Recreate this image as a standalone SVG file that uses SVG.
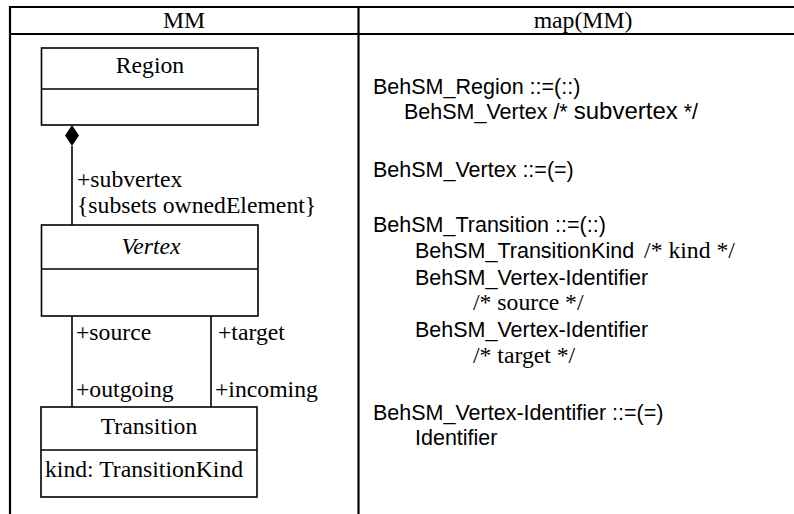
<svg xmlns="http://www.w3.org/2000/svg" width="794" height="514" viewBox="0 0 794 514">
<defs>
<style>
.tbl{stroke:#000;stroke-width:2.2;fill:none}
.box{stroke:#000;stroke-width:1.6;fill:#fff}
.ln{stroke:#000;stroke-width:1.6;fill:none}
.t{font-family:"Liberation Serif","Times New Roman",serif;font-size:23.7px;fill:#000}
.s{font-family:"Liberation Sans",Arial,sans-serif;font-size:21.5px;fill:#000}
.c{text-anchor:middle}
</style>
</defs>
<rect width="794" height="514" fill="#fff"/>
<g id="table">
<line class="tbl" x1="10" y1="7" x2="794" y2="7"/>
<line class="tbl" x1="10" y1="34" x2="794" y2="34"/>
<line class="tbl" x1="10" y1="6" x2="10" y2="514"/>
<line class="tbl" x1="358.5" y1="6" x2="358.5" y2="514"/>
<text class="t c" x="184" y="28">MM</text>
<text class="t c" x="583" y="28">map(MM)</text>
</g>
<g id="connectors">
<polygon points="72,125 79,135.5 72,146 65,135.5" fill="#000"/>
<line class="ln" x1="72" y1="146" x2="72" y2="225"/>
<line class="ln" x1="72" y1="316" x2="72" y2="407"/>
<line class="ln" x1="211" y1="316" x2="211" y2="407"/>
<text class="t" x="77" y="187">+subvertex</text>
<text class="t" x="77" y="213">{subsets ownedElement}</text>
<text class="t" x="76" y="340">+source</text>
<text class="t" x="218" y="340">+target</text>
<text class="t" x="76" y="397">+outgoing</text>
<text class="t" x="215" y="397">+incoming</text>
</g>
<g id="Region">
<rect class="box" x="41.5" y="48" width="216.5" height="77"/>
<line class="ln" x1="41.5" y1="89" x2="258" y2="89"/>
<text class="t c" x="150" y="73">Region</text>
</g>
<g id="Vertex">
<rect class="box" x="41.5" y="225" width="216.5" height="91"/>
<line class="ln" x1="41.5" y1="269" x2="258" y2="269"/>
<text class="t c" x="151" y="254" font-style="italic">Vertex</text>
</g>
<g id="Transition">
<rect class="box" x="41" y="407" width="216" height="90"/>
<line class="ln" x1="41" y1="450" x2="257" y2="450"/>
<text class="t c" x="149" y="434">Transition</text>
<text class="t" x="45" y="477">kind: TransitionKind</text>
</g>
<g id="mapping">
<text class="s" x="373" y="94">BehSM_Region ::=(::)</text>
<text class="s" x="404" y="119">BehSM_Vertex /* <tspan font-size="24">subvertex</tspan> */</text>
<text class="s" x="373" y="177">BehSM_Vertex ::=(=)</text>
<text class="s" x="373" y="232">BehSM_Transition ::=(::)</text>
<text class="s" x="415" y="258">BehSM_TransitionKind <tspan class="t" dx="4">/* kind */</tspan></text>
<text class="s" x="415" y="285">BehSM_Vertex-Identifier</text>
<text class="t" x="473" y="310">/* source */</text>
<text class="s" x="415" y="337">BehSM_Vertex-Identifier</text>
<text class="t" x="473" y="363">/* target */</text>
<text class="s" x="373" y="420">BehSM_Vertex-Identifier ::=(=)</text>
<text class="s" x="415" y="445">Identifier</text>
</g>
</svg>
